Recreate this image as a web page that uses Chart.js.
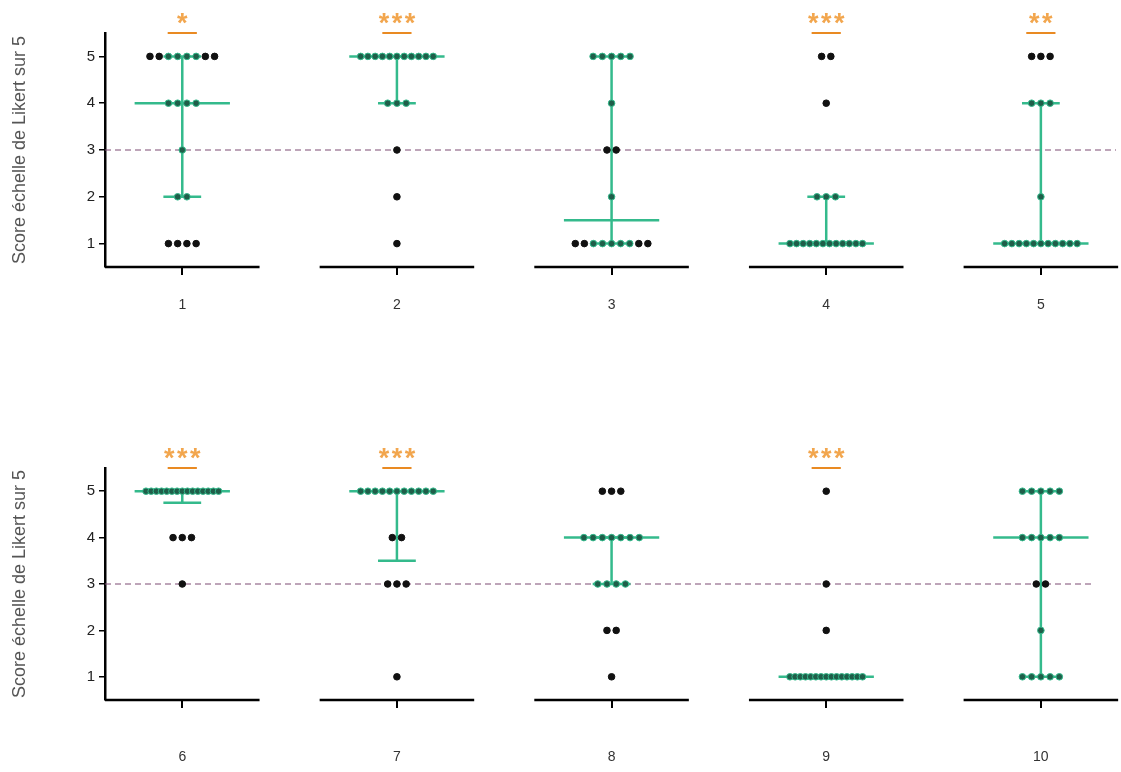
<!DOCTYPE html>
<html>
<head>
<meta charset="utf-8">
<script src="https://cdn.jsdelivr.net/npm/chart.js@4.4.0/dist/chart.umd.min.js"></script>
<style>
  html, body { margin: 0; padding: 0; background: #fff; }
  #wrap { position: relative; width: 1121px; height: 772px; }
  canvas { position: absolute; left: 0; }
</style>
</head>
<body>
<div id="wrap">
  <canvas id="row1" width="1121" height="386" style="top:0"></canvas>
  <canvas id="row2" width="1121" height="386" style="top:386px"></canvas>
</div>
<script>
// items (one panel each)
var categories = ['1', '2', '3', '4', '5', '6', '7', '8', '9', '10'];
// number of answers at each Likert score
var n1 = [4, 1, 9, 12, 11, 0, 1, 1, 15, 5];
var n2 = [2, 1, 1, 3, 1, 0, 0, 2, 1, 1];
var n3 = [1, 1, 2, 0, 0, 1, 3, 4, 1, 2];
var n4 = [4, 3, 1, 1, 3, 3, 2, 7, 0, 5];
var n5 = [8, 11, 5, 2, 3, 15, 11, 3, 1, 5];
// median and interquartile range
var medians = [4, 5, 1.5, 1, 1, 5, 5, 4, 1, 4];
var q1s = [2, 4, 1, 1, 1, 4.75, 3.5, 3, 1, 1];
var q3s = [5, 5, 5, 2, 4, 5, 5, 4, 1, 5];
var stars = ['*', '***', '', '***', '**', '***', '***', '', '***', ''];
var yTicks = [1, 2, 3, 4, 5];
var refValue = 3;

var GREEN = '#34BA8C';
var DOT_GREEN = '#1F5E49';
var ORANGE = '#E98A22';
var STAR = '#F2A64E';
var FONT = '"Liberation Sans", Arial, sans-serif';

var medHalf = 0.222, capHalf = 0.088, axisHalf = 0.36, barHalf = 0.068;

function dotsFor(i) {
	var counts = [n1[i], n2[i], n3[i], n4[i], n5[i]];
	var pts = [];
	for (var s = 0; s < 5; s++) {
		var n = counts[s];
		if (!n) continue;
		var sp = n > 1 ? Math.min(0.043, 0.338 / (n - 1)) : 0;
		for (var k = 0; k < n; k++) {
			pts.push({ dx: (k - (n - 1) / 2) * sp, y: yTicks[s] });
		}
	}
	return pts;
}

function onGreen(i, p) {
	var a = Math.abs(p.dx);
	if (p.y === medians[i] && a <= medHalf) return true;
	if ((p.y === q1s[i] || p.y === q3s[i]) && a <= capHalf) return true;
	if (p.y > q1s[i] && p.y < q3s[i] && a < 0.012) return true;
	return false;
}

var starPlugin = {
	id: 'stars',
	afterDatasetsDraw: function(chart) {
		var row = chart.options.plugins.stars.row;
		var ctx = chart.ctx;
		var xs = chart.scales.x, ys = chart.scales.y;
		ctx.save();
		ctx.fillStyle = STAR;
		ctx.font = 'bold 27px ' + FONT;
		ctx.textAlign = 'center';
		ctx.textBaseline = 'alphabetic';
		for (var j = 0; j < 5; j++) {
			var s = stars[row * 5 + j];
			if (!s) continue;
			var cx = xs.getPixelForValue(j + 1);
			var base = ys.getPixelForValue(5.5) - 1;
			for (var k = 0; k < s.length; k++) {
				ctx.fillText('*', cx + (k - (s.length - 1) / 2) * 13, base);
			}
		}
		ctx.restore();
	}
};

function buildRow(row, canvasId, padTop, xAxisH, labelPad, refEnd) {
	var datasets = [];
	for (var j = 0; j < 5; j++) {
		var i = row * 5 + j;
		var c = j + 1;
		var pts = dotsFor(i);
		datasets.push({
			type: 'scatter',
			data: pts.map(function(p) { return { x: c + p.dx, y: p.y }; }),
			pointRadius: 3.3,
			pointBorderWidth: 1,
			pointBackgroundColor: pts.map(function(p) { return onGreen(i, p) ? DOT_GREEN : '#111'; }),
			pointBorderColor: pts.map(function(p) { return onGreen(i, p) ? GREEN : '#111'; }),
			showLine: false,
			order: 0
		});
		// median
		datasets.push({
			type: 'line',
			data: [{ x: c - medHalf, y: medians[i] }, { x: c + medHalf, y: medians[i] }],
			borderColor: GREEN, borderWidth: 2.5, pointRadius: 0, order: 1
		});
		// interquartile range with caps
		datasets.push({
			type: 'line',
			data: [
				{ x: c, y: q1s[i] }, { x: c, y: q3s[i] }, { x: c, y: null },
				{ x: c - capHalf, y: q1s[i] }, { x: c + capHalf, y: q1s[i] }, { x: c, y: null },
				{ x: c - capHalf, y: q3s[i] }, { x: c + capHalf, y: q3s[i] }
			],
			borderColor: GREEN, borderWidth: 2.5, pointRadius: 0, spanGaps: false, order: 1
		});
		// axis segment
		datasets.push({
			type: 'line',
			data: [{ x: c - axisHalf, y: 0.5 }, { x: c + axisHalf, y: 0.5 }],
			borderColor: '#000', borderWidth: 2.5, pointRadius: 0, clip: false, order: 1
		});
		if (stars[i]) {
			datasets.push({
				type: 'line',
				data: [{ x: c - barHalf, y: 5.5 }, { x: c + barHalf, y: 5.5 }],
				borderColor: ORANGE, borderWidth: 2, pointRadius: 0, clip: false, order: 1
			});
		}
	}
	datasets.push({
		type: 'line',
		data: [{ x: 0.64, y: refValue }, { x: refEnd, y: refValue }],
		borderColor: 'rgb(125, 75, 115)', borderWidth: 1, borderDash: [6, 4],
		pointRadius: 0, order: 2
	});

	return new Chart(document.getElementById(canvasId), {
		type: 'scatter',
		data: { datasets: datasets },
		plugins: [starPlugin],
		options: {
			responsive: false,
			animation: false,
			events: [],
			layout: { padding: { top: padTop, left: 0, right: 0, bottom: 0 } },
			plugins: { legend: { display: false }, tooltip: { enabled: false }, stars: { row: row } },
			scales: {
				x: {
					type: 'linear', min: 0.64, max: 5.35,
					afterBuildTicks: function(s) { s.ticks = [1, 2, 3, 4, 5].map(function(v) { return { value: v }; }); },
					afterFit: function(s) { s.height = xAxisH; },
					border: { display: false },
					grid: { drawOnChartArea: false, drawTicks: true, tickLength: 8, color: '#000', lineWidth: 2 },
					ticks: {
						padding: labelPad, color: '#333', maxRotation: 0,
						font: { size: 14, family: FONT },
						callback: function(v) { return categories[row * 5 + v - 1]; }
					}
				},
				y: {
					type: 'linear', min: 0.5, max: 5.5,
					afterBuildTicks: function(s) { s.ticks = yTicks.map(function(v) { return { value: v }; }); },
					afterFit: function(s) { s.width = 105; },
					border: { display: true, color: '#000', width: 2.5 },
					grid: { drawOnChartArea: false, drawTicks: true, tickLength: 6, color: '#000', lineWidth: 1.5 },
					ticks: { padding: 4, color: '#222', font: { size: 15, family: FONT } },
					title: {
						display: true, text: 'Score échelle de Likert sur 5', color: '#555',
						padding: { top: 9, bottom: 0 },
						font: { size: 18, family: FONT }
					}
				}
			}
		}
	});
}

buildRow(0, 'row1', 33, 119, 22, 5.35);
buildRow(1, 'row2', 82, 72, 41, 5.25);
</script>
</body>
</html>
